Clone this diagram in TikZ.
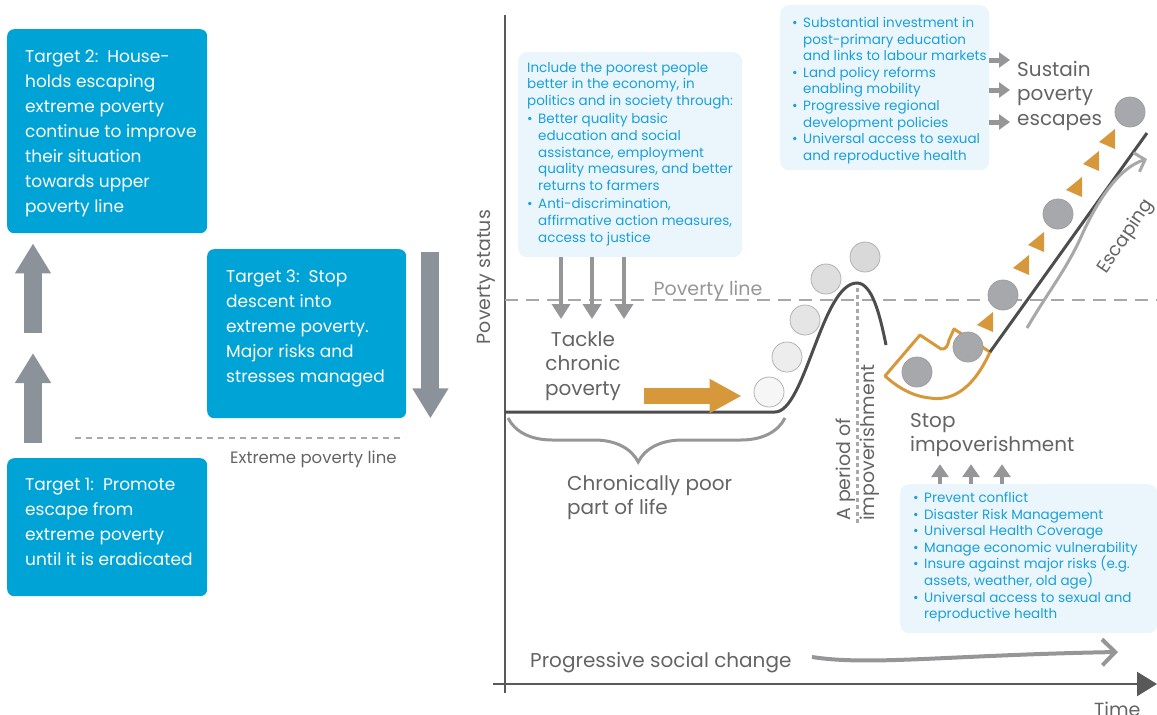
\documentclass[tikz,border=0pt]{standalone}
\usepackage{fontspec}
\setmainfont{Poppins}
\usetikzlibrary{arrows.meta,decorations.pathreplacing}

\definecolor{targetblue}{RGB}{0,163,214}
\definecolor{paleblue}{RGB}{234,245,252}
\definecolor{listblue}{RGB}{27,160,218}
\definecolor{blockgray}{RGB}{140,146,154}
\definecolor{pointergray}{RGB}{150,150,152}
\definecolor{textgray}{RGB}{100,100,100}
\definecolor{linegray}{RGB}{168,168,168}
\definecolor{curvegray}{RGB}{77,77,77}
\definecolor{axisgray}{RGB}{89,89,89}
\definecolor{ochre}{RGB}{214,152,58}
\definecolor{dotgray}{RGB}{167,168,172}

\newcommand{\bul}{\makebox[11pt][l]{\textbullet}}
\newcommand{\ind}{\hspace*{11pt}}

\begin{document}
\begin{tikzpicture}[x=1pt, y=-1pt,
  targetbox/.style={fill=targetblue, rounded corners=7pt, anchor=north west, inner sep=0pt},
  targettext/.style={text=white, align=left, anchor=north west, inner sep=0pt, font=\fontsize{17}{25}\selectfont},
  listbox/.style={fill=paleblue, rounded corners=9pt, anchor=north west, inner sep=0pt},
  listtext/.style={text=listblue, align=left, anchor=north west, inner sep=0pt, font=\fontsize{13.5}{16.6}\selectfont},
  chartlabel/.style={text=textgray, align=left, inner sep=0pt, font=\fontsize{20}{24.5}\selectfont},
  blockarrow/.style={draw=blockgray, line width=18pt, -{Triangle[length=30pt,width=34pt]}},
  pointer/.style={draw=pointergray, line width=3.5pt, -{Triangle[length=15pt,width=18pt]}},
  passdot/.style={circle, draw=gray!60, line width=0.8pt, minimum size=30pt, inner sep=0pt},
  stuckdot/.style={circle, fill=dotgray, draw=gray!75, line width=0.8pt, minimum size=30pt, inner sep=0pt}]

\useasboundingbox (0,0) rectangle (1157,715);

% targets on the left
\node[targetbox, minimum width=200pt, minimum height=204pt] (t2box) at (7,29) {};
\node[targettext] (t2) at (25,50) {Target 2:\ \ House-\\holds escaping\\extreme poverty\\continue to improve\\their situation\\towards upper\\poverty line};
\node[targetbox, minimum width=199pt, minimum height=169pt] (t3box) at (207,249) {};
\node[targettext] (t3) at (226,270) {Target 3:\ \ Stop\\descent into\\extreme poverty.\\Major risks and\\stresses managed};
\node[targetbox, minimum width=200pt, minimum height=138pt] (t1box) at (7,458) {};
\node[targettext] (t1) at (25,478) {Target 1:\ \ Promote\\escape from\\extreme poverty\\until it is eradicated};

\coordinate (gap) at (33,343);
\draw[blockarrow, shorten <=15pt] (t1box.north -| gap) -- ([yshift=-10pt]gap);
\draw[blockarrow, shorten >=10pt] ([yshift=10pt]gap) -- (t2box.south -| gap);
\draw[blockarrow, shorten <=3pt] ([xshift=24pt]t3box.north east) -- ([xshift=24pt]t3box.south east);

\draw[linegray, line width=2.5pt, dash pattern=on 6pt off 5pt] (75,438) -- (405,438);
\node[text=textgray, inner sep=0pt, anchor=base west, font=\fontsize{16.5}{19}\selectfont] (xpl) at (230,463) {Extreme poverty line};

% axes
\draw[axisgray, line width=2.5pt] (505,15) -- (505,693);
\draw[axisgray, line width=2.5pt, -{Triangle[length=20pt,width=24pt]}] (493,684) -- (1157,684);
\node[chartlabel, rotate=90, font=\fontsize{19}{23}\selectfont] (ylab) at (486,277) {Poverty status};
\node[chartlabel, anchor=base west, font=\fontsize{19}{23}\selectfont] (time) at (1094,716) {Time};

\draw[linegray, line width=1.5pt, dash pattern=on 13pt off 8pt] (505,300) -- (1157,300);
\node[chartlabel, anchor=base, text=linegray!90!black, font=\fontsize{19}{23}\selectfont] (pline) at (708,295) {Poverty line};

% boxes of measures
\node[listbox, minimum width=224pt, minimum height=205pt] (incbox) at (518,52) {};
\node[listtext] (inc) at (527,62) {Include the poorest people\\better in the economy, in\\politics and in society through:\\[2pt]
\bul Better quality basic\\\ind education and social\\\ind assistance, employment\\\ind quality measures, and better\\\ind returns to farmers\\[2pt]
\bul Anti-discrimination,\\\ind affirmative action measures,\\\ind access to justice};

\node[listbox, minimum width=209pt, minimum height=165pt] (susbox) at (780,5) {};
\node[listtext] (sus) at (792,17) {\bul Substantial investment in\\\ind post-primary education\\\ind and links to labour markets\\
\bul Land policy reforms\\\ind enabling mobility\\\bul Progressive regional\\\ind development policies\\
\bul Universal access to sexual\\\ind and reproductive health};

\node[listbox, minimum width=257pt, minimum height=149pt] (prevbox) at (900,484) {};
\node[listtext] (prev) at (913,492) {\bul Prevent conflict\\\bul Disaster Risk Management\\\bul Universal Health Coverage\\
\bul Manage economic vulnerability\\\bul Insure against major risks (e.g.\\\ind assets, weather, old age)\\
\bul Universal access to sexual and\\\ind reproductive health};

% labels
\node[chartlabel, align=center, anchor=north] (tackle) at (583,331) {Tackle\\chronic\\poverty};
\node[chartlabel, anchor=north west] (chron) at (567,475) {Chronically poor\\part of life};
\node[chartlabel, anchor=north west] (sustain) at (1017,61) {Sustain\\poverty\\escapes};
\node[chartlabel, anchor=north west] (stop) at (910,413) {Stop\\impoverishment};
\node[chartlabel, rotate=90, anchor=north west, font=\fontsize{19}{24}\selectfont] (period) at (836,521) {A period of\\impoverishment};
\node[chartlabel, anchor=base west] (social) at (530,667) {Progressive social change};
\node[chartlabel, rotate=56, font=\fontsize{18.5}{23}\selectfont] (escaping) at (1126,237) {Escaping};

\foreach \x in {561,592,624}
  \draw[pointer, shorten >=12pt] (incbox.south -| \x,0) -- (tackle.north -| \x,0);
\foreach \y in {60,90,122}
  \draw[draw=pointergray, line width=5pt, -{Triangle[length=11pt,width=15pt]}, shorten >=7pt] (susbox.east |- 0,\y) -- (sustain.west |- 0,\y);
\foreach \x in {940,971,1002}
  \draw[draw=pointergray, line width=4pt, -{Triangle[length=13pt,width=17pt]}, shorten >=7pt] (prevbox.north -| \x,0) -- (stop.south -| \x,0);

% the path of a household
\draw[curvegray, line width=3pt] (505,412) -- (775,412) .. controls (805,412) and (822,283) .. (857,283) .. controls (872,283) and (880,315) .. (886,345);
\draw[linegray, line width=3pt, dash pattern=on 4pt off 3pt] (857,288) -- (857,525);
\draw[pointergray, line width=3pt, decorate, decoration={brace, mirror, amplitude=44pt, aspect=0.47}] (508,418) -- (785,418);

\node[passdot, fill=gray!7] (c1) at (769,392) {};
\node[passdot, fill=gray!14] (c2) at (787,357) {};
\node[passdot, fill=gray!20] (c3) at (805,320) {};
\node[passdot, fill=gray!26] (c4) at (826,279) {};
\node[passdot, fill=gray!30] (c5) at (865,257) {};

\draw[ochre, line width=16pt, -{Triangle[length=32pt,width=32pt]}] ([xshift=23pt]tackle.east |- 0,396) -- ([xshift=-12pt]c1.west |- 0,396);

\draw[ochre, line width=3pt, line join=round] (885,376) -- (920,335) -- (941,349) .. controls (946,350) and (948,345) .. (949,340) -- (954,329) -- (990,352) .. controls (975,385) and (955,402) .. (930,398) .. controls (910,396) and (895,385) .. (885,376) -- cycle;
\draw[curvegray, line width=3pt] (990,352) -- (1147,133);

\node[stuckdot] (d1) at (917,372) {};
\node[stuckdot] (d2) at (968,347) {};
\node[stuckdot] (d3) at (1003,295) {};
\node[stuckdot] (d4) at (1058,214) {};
\node[stuckdot] (d5) at (1130,112) {};

\foreach \x/\y in {986/322,1022/265,1037/242,1075/187,1092/161,1108/139}
  \fill[ochre] ({\x-9},{\y+3}) -- ({\x+7},{\y-10}) -- ({\x+7},{\y+10}) -- cycle;

\draw[linegray, line width=3pt, -{Straight Barb[length=9pt,width=20pt]}] (1027,328) .. controls (1048,292) and (1066,270) .. (1081,237) .. controls (1096,203) and (1118,168) .. (1147,159);
\draw[pointergray, line width=4pt, -{Straight Barb[length=13pt,width=26pt]}] (812,657) .. controls (870,666) and (950,655) .. (1118,652);

\end{tikzpicture}
\end{document}
